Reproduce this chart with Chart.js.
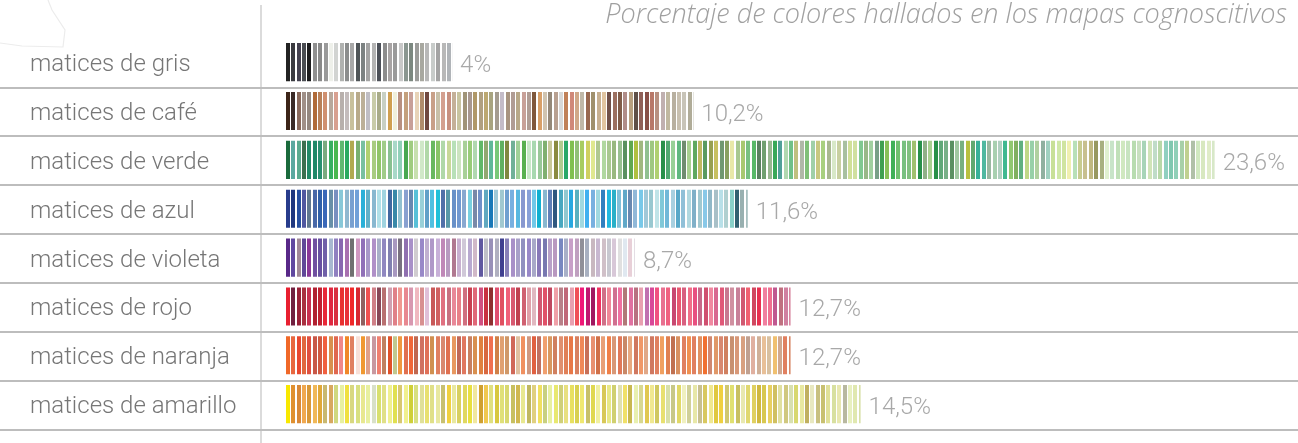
<!DOCTYPE html>
<html>
<head>
<meta charset="utf-8">
<script src="https://cdn.jsdelivr.net/npm/chart.js@4"></script>
<style>
  html, body { margin: 0; padding: 0; background: #fff; }
</style>
</head>
<body>
<canvas id="chart" width="1298" height="443"></canvas>
<script>
const chartTitle = 'Porcentaje de colores hallados en los mapas cognoscitivos';
const categories = ['matices de gris', 'matices de café', 'matices de verde', 'matices de azul',
  'matices de violeta', 'matices de rojo', 'matices de naranja', 'matices de amarillo'];
const values = [4, 10.2, 23.6, 11.6, 8.7, 12.7, 12.7, 14.5];
const valueLabels = ['4%', '10,2%', '23,6%', '11,6%', '8,7%', '12,7%', '12,7%', '14,5%'];

// colores de las franjas de cada barra
const grisColors = ['#222222', '#3a3a40', '#44414f', '#4a4d52', '#1c1c1e', '#909090', '#8a8a8a', '#9a9a9a',
  '#eef0ea', '#d2d4d2', '#b0b2b0', '#8c8e8e', '#a8a8a8', '#505558', '#7c8282', '#a4a4a4', '#b4b4b4',
  '#4c5058', '#8c8c8c', '#a8a4a4', '#9a9a9a', '#c8c8c8', '#8a9690', '#7c8880', '#9c9c9a', '#a8a8a0',
  '#b8b8b8', '#c8ccca', '#a4a4a4', '#b8b8b8', '#b0b4b8', '#b8b8b8', '#c0c0c0'];
const cafeColors = ['#3c2418', '#3a2a26', '#8a6a5c', '#a09088', '#948880', '#b06a38', '#b88058', '#d09070',
  '#b8a89c', '#d8a090', '#b8b0ac', '#c4bcbc', '#c8c09c', '#b8aa8a', '#bcb098', '#c0bec4', '#c8cca8',
  '#a8ac88', '#c8d0c4', '#d0a050', '#f0f0dc', '#b89080', '#c4a07c', '#c8a098', '#e8d4b8', '#b08c6c',
  '#704840', '#c8a088', '#c8c0a8', '#d4a090', '#c89080', '#c4b098', '#c8c4a0', '#a09478', '#a89890',
  '#b09868', '#b0a080', '#bca870', '#a8a480', '#a49c90', '#c4bcc8', '#a89480', '#b09c94', '#b8a888',
  '#c8a098', '#b09c94', '#80583c', '#d8a068', '#d0c4b0', '#948878', '#b8a090', '#d8d8d8', '#c08058',
  '#d08878', '#d0a888', '#c0b8a8', '#986850', '#a0906c', '#c8b090', '#e0c4a0', '#705048', '#9c7060',
  '#805c48', '#b08c88', '#b8a080', '#605048', '#906058', '#885048', '#b87868', '#b89080', '#c0b0b0',
  '#c0b8a0', '#b8b0a0', '#c8c0b0', '#c8c4b8', '#b0ac98', '#b0b0a0', '#c0bca8', '#b8b4a4'];
const verdeColors = ['#1a6a3c', '#5aa8a0', '#5aaa90', '#3c7050', '#228a68', '#1e8868', '#2a9070', '#7aaa80',
  '#38b060', '#4ab850', '#60b870', '#2aaa60', '#b0aa50', '#78b070', '#78c0a0', '#b0d070', '#a8cc80',
  '#90c468', '#a0cc88', '#88c090', '#a8d8c8', '#90d0b8', '#48a850', '#a0cc80', '#c8e0b0', '#d0e8c8',
  '#b0d8a8', '#68b860', '#88c468', '#b0d8a8', '#c8d898', '#b8e0b8', '#cce4c0', '#a8d098', '#98cc78',
  '#b0d8b0', '#60b868', '#90a870', '#60b898', '#78c878', '#60b060', '#808840', '#70b098', '#a0d098',
  '#58b050', '#c8e8c8', '#a8d8b0', '#98c898', '#80b070', '#c8c898', '#8a8a40', '#b0cc90', '#28a868',
  '#80c050', '#90c078', '#a8cc60', '#d0d060', '#e0e890', '#b0c890', '#b0d8a0', '#a8c890', '#98b880',
  '#98c090', '#5a9060', '#60a850', '#b0c040', '#a0b880', '#90c090', '#a0c880', '#b0d070', '#28904a',
  '#50a870', '#98d098', '#60b880', '#708c70', '#a8d090', '#60a860', '#c0b860', '#5a9a60', '#98a050',
  '#c8c060', '#709870', '#88a060', '#e8e8a8', '#a8c890', '#a8c870', '#78c080', '#58b868', '#5a8060',
  '#70a070', '#98b890', '#38a858', '#50a098', '#b0d8b0', '#70c088', '#c0c080', '#b0b8a8', '#80c078',
  '#a0d0a8', '#c8c880', '#a8d080', '#a8b890', '#d8e8c8', '#c8d0a0', '#a8c0a0', '#d0e098', '#d0e0a0',
  '#80c890', '#98b888', '#a0d0a0', '#78a088', '#40a050', '#88c058', '#40b058', '#70c070', '#78c080',
  '#80c080', '#a0c070', '#28904a', '#90b088', '#a8d090', '#289048', '#60a878', '#78b088', '#5a9060',
  '#a0c8a0', '#78b080', '#b8c040', '#60a870', '#38b098', '#50b8a0', '#98b8a0', '#a8d0b0', '#b0d0c0',
  '#40b890', '#90c870', '#80b060', '#60b080', '#c0d888', '#98d0a8', '#b0d0a0', '#90b0a0', '#a0d0c0',
  '#c8e098', '#d0e8a8', '#d0e4a0', '#f0f0b0', '#b8e0b8', '#c8cc90', '#c8c090', '#c0b880', '#989860',
  '#a8b080', '#e0f0d0', '#c8e4c8', '#c0e0b8', '#d0e8c0', '#c8e4c0', '#b8dcb0', '#c8e0c0', '#a8d4b8',
  '#d0e4b8', '#c0dcc8', '#b8d8a8', '#90d0c0', '#80c8b0', '#90d0b8', '#a8d0a8', '#c0d090', '#b0c0a8',
  '#d0e8c0', '#d8e8c0', '#e0ecc8', '#d8e8c8', '#dceac4', '#e0eccc'];
const azulColors = ['#283c8c', '#203880', '#2850a0', '#5058a0', '#607890', '#4868a8', '#3060a8', '#3a68b8',
  '#6890a8', '#7890c0', '#88c8d8', '#90b8d0', '#78a0d0', '#70a0d8', '#28b0d8', '#60b0c8', '#88b8d0',
  '#b0e0e8', '#a0d4e0', '#4068a0', '#3888a8', '#90c0d0', '#88a0d0', '#6888b0', '#58c0d8', '#98d0d8',
  '#60a0c8', '#50c0e0', '#20c0d8', '#5070a8', '#5898a8', '#6890c8', '#7098d0', '#88a8d0', '#78d0e0',
  '#7888a8', '#7090c8', '#60a8c0', '#1878b8', '#a0c8d8', '#a0c8d0', '#70a0d0', '#78b0e0', '#58b8e0',
  '#8898d0', '#88a0d8', '#70c8e8', '#10b0d0', '#88b8d0', '#6080b8', '#305880', '#48a8c0', '#90c8d0',
  '#28a8e0', '#58b0c0', '#a0d8e0', '#40b0f0', '#78b0e0', '#a0d8e0', '#3080c0', '#20b8e0', '#28b0c8',
  '#80c0d8', '#60a8c8', '#6888b0', '#90b8d8', '#78c8e8', '#a0c8d8', '#98c8d0', '#c0e4e8', '#80c8d8',
  '#70b8d8', '#a8d0e0', '#58a8c8', '#90c0d8', '#b0d8e0', '#80b0c8',
  '#a0c8d0', '#88c8e8', '#90b8c8', '#a8c0c8', '#b8e0e8', '#b0d0d0', '#88d0c8', '#306070', '#98b0b0',
  '#a8c0c0', '#b0c8c8', '#a0b8b8', '#b8cccc'];
const violetaColors = ['#582888', '#6048a0', '#a08898', '#604898', '#8a3898', '#7050a0', '#6850a0', '#7060a8',
  '#a8b8d0', '#9080c0', '#8868b0', '#a870b0', '#707070', '#d098c0', '#9070b8', '#a898c8', '#b090c8',
  '#a8b0c8', '#9088c0', '#8080b0', '#a898c0', '#787080', '#9070b0', '#a890c8', '#d0ccd0', '#9888c8',
  '#c0b0d0', '#b098c8', '#c8b0d8', '#c088b8', '#b89ac0', '#b07890', '#c8b0d0', '#d0c8d8', '#b8a8d0',
  '#d0b8c8', '#6058a0', '#c0c0c8', '#9890b8', '#b0b0c0', '#404090', '#8880b8', '#a890c8', '#a8a0c8',
  '#9090c0', '#9888c8', '#a8a8c8', '#8878b8', '#7878b0', '#b8a0c8', '#b898c0', '#7888c0', '#a8b0c8',
  '#c8a0c8', '#c0a0c0', '#909098', '#a8b0c0', '#c8b8c0', '#c8b8d0', '#d0c0c8', '#c8c8d0', '#d8c8d8',
  '#e0e0e0', '#e0e8f0', '#e8d0d8', '#e4dce4', '#ece0e8', '#e8e4ec', '#f0e0e8'];
const rojoColors = ['#e82030', '#702040', '#982038', '#a83040', '#c83050', '#b02030', '#c02030', '#e82838',
  '#e02840', '#d83040', '#e83030', '#e83038', '#f02828', '#d82830', '#906060', '#f05050', '#d08088',
  '#884858', '#b87070', '#d0a0b0', '#e08088', '#f09890', '#e88890', '#d898b0', '#f0b8c0', '#d89090',
  '#e0c0d8', '#c85858', '#d06060', '#e07080', '#c87080', '#e88898', '#e88088', '#d07080', '#c84050',
  '#e06878', '#d05080', '#c83040', '#903030', '#e05070', '#e05060', '#f06078', '#d85870', '#c04050',
  '#d06070', '#e0a0a8', '#e0b8c0', '#d05870', '#e05068', '#c04860', '#f0a0a8', '#b88088', '#c06878',
  '#e8a0b0', '#f05058', '#f01878', '#c01870', '#a01860', '#f03060', '#d07088', '#f08898', '#d07090',
  '#f070a0', '#b07878', '#e070a0', '#b87080', '#e8a0b0', '#c070b0', '#d84898', '#f05080', '#e87090',
  '#f06080', '#c84870', '#e85870', '#d86080', '#f07088', '#e85080', '#c86888', '#d05070', '#f088a0',
  '#d86890', '#e05878', '#c87890', '#d090a0',
  '#c88098', '#d05870', '#f06070', '#d04860', '#e83050', '#f080a0', '#f07090', '#c05890', '#c07080',
  '#d080a0', '#d888a0', '#c890a0'];
const naranjaColors = ['#f06828', '#e86840', '#e84830', '#e06840', '#e05040', '#c85848', '#d05840', '#f06040',
  '#d89050', '#e06850', '#f08888', '#f08828', '#e08060', '#f8e0d8', '#f09830', '#e0a088', '#c898a0',
  '#f08070', '#c08060', '#e05028', '#c0c890', '#f09840', '#e07050', '#f06838', '#c06850', '#d07060',
  '#e07058', '#d09050', '#e08060', '#d88870', '#e07050', '#e89860', '#c06858', '#e07860', '#c88060',
  '#d89050', '#e08040', '#d86840', '#f07050', '#d08048', '#e0a070', '#d09868', '#d06858', '#e0c0a0',
  '#f09060', '#d09880', '#e06040', '#c07060', '#f0a070', '#d89860', '#d08060', '#e09070', '#e08058',
  '#e87848', '#d88060', '#f08858', '#c87058', '#e89070', '#d07048', '#e8a078', '#f08048', '#d89878',
  '#e07858', '#c88868', '#e8a880', '#d07860', '#f09868', '#e0a888',
  '#d07860', '#e08060', '#f0a060', '#e08050', '#c07050', '#d89060', '#e08060', '#f09050', '#e08060',
  '#e09060', '#f07030', '#d08870', '#e09868', '#d88870', '#d08060', '#c89070', '#d89878', '#d8a080',
  '#c0a090', '#e0b0a0', '#d0b098', '#e8c098', '#d8c0a0', '#f0c070', '#d0a890', '#e08060', '#d88868'];
const amarilloColors = ['#f8e800', '#e09030', '#d88838', '#f0a850', '#d89838', '#f0b858', '#e0a838', '#c8b870',
  '#d8a860', '#d0d880', '#e8f0a0', '#f0e040', '#d8d880', '#d8e080', '#e8e890', '#e8f0a0', '#d8e0c8',
  '#d8e070', '#e0e088', '#f0f090', '#e0e050', '#d8c870', '#f0f090', '#d0d038', '#d8e080', '#e0e098',
  '#e8e070', '#e0e088', '#e8e8a0', '#c8c070', '#f0d040', '#e8e8a0', '#d8d060', '#e0d860', '#e8e040',
  '#f0e8a0', '#d0a030', '#f0c850', '#e0e080', '#d8c840', '#e0e078', '#d8d870', '#c8c060', '#d0b850',
  '#e8e890', '#c0b860', '#e0d080', '#f0e060', '#c8d080', '#e8f0a0', '#e8e870', '#d0d078', '#e8e080',
  '#e8e060', '#d8d050', '#f0e870', '#c8c068', '#e0d850', '#f0f0a0', '#d8c858', '#e8e888', '#d0d070',
  '#e0e0b0', '#f0e068', '#c8b850', '#e8f0b0', '#d8d890', '#e0c850', '#f0e890', '#d0c860', '#e8e070',
  '#d8e0a8', '#c8c888', '#e0d868', '#f0f0c0', '#d0d098', '#e8e8a8', '#c8c090',
  '#d8c860', '#f0e890', '#e0c840', '#f0d040', '#d0c870', '#e0e070', '#c8c060', '#e8e8b0', '#e0d870',
  '#e0d060', '#d0b840', '#d8c850', '#e8d060', '#d0c060', '#e0e0a0', '#d0c880', '#d8e0b0', '#d8d870',
  '#e8e8a0', '#c0b060', '#e8e8c0', '#c8c080', '#c8c070', '#e0e098', '#d8e0a0', '#e8e8b0', '#b8b8a0',
  '#e8f0c0', '#e0e8b0', '#d8e0a8', '#e8ecc0', '#e0e4b8', '#e8f0c8'];
const palettes = [grisColors, cafeColors, verdeColors, azulColors, violetaColors, rojoColors, naranjaColors, amarilloColors];

const STRIPE_STEP = 5.35;
const STRIPE_W = 4;
const BAR_BASE = -0.27;
const patternCache = {};

// patron de franjas verticales con los colores de la categoria
const stripePattern = (chart, index) => {
  const area = chart.chartArea;
  const key = index + '_' + area.left;
  if (patternCache[key]) return patternCache[key];
  const colors = palettes[index];
  const w = Math.round(colors.length * STRIPE_STEP);
  const c = document.createElement('canvas');
  c.width = w;
  c.height = 64;
  const g = c.getContext('2d');
  colors.forEach((col, i) => {
    g.fillStyle = col;
    g.fillRect(Math.round(i * w / colors.length), 0, STRIPE_W, 64);
  });
  const pattern = chart.ctx.createPattern(c, 'repeat');
  pattern.setTransform(new DOMMatrix().translate(Math.round(area.left), 0));
  patternCache[key] = pattern;
  return pattern;
};

const decorPlugin = {
  id: 'decor',
  beforeDraw(chart) {
    const ctx = chart.ctx;
    ctx.save();
    // contorno tenue arriba a la izquierda
    ctx.strokeStyle = '#ececec';
    ctx.lineWidth = 1.2;
    ctx.beginPath();
    ctx.moveTo(0, 43);
    ctx.lineTo(22, 46);
    ctx.lineTo(63, 47);
    ctx.lineTo(65, 30);
    ctx.lineTo(52, 10);
    ctx.lineTo(48, 0);
    ctx.stroke();
    // linea vertical
    const x = chart.chartArea.left - 25;
    ctx.strokeStyle = '#cfcfcf';
    ctx.lineWidth = 1.5;
    ctx.beginPath();
    ctx.moveTo(x, 5);
    ctx.lineTo(x, chart.height);
    ctx.stroke();
    // separadores de filas
    const yScale = chart.scales.y;
    ctx.strokeStyle = '#bdbdbd';
    ctx.lineWidth = 2;
    categories.forEach((c, i) => {
      const y0 = yScale.getPixelForValue(i);
      const y1 = i < categories.length - 1 ? yScale.getPixelForValue(i + 1) : y0 + (y0 - yScale.getPixelForValue(i - 1));
      const y = Math.round((y0 + y1) / 2) + 1;
      ctx.beginPath();
      ctx.moveTo(0, y);
      ctx.lineTo(chart.width, y);
      ctx.stroke();
    });
    ctx.restore();
  },
  afterDatasetsDraw(chart) {
    const ctx = chart.ctx;
    const meta = chart.getDatasetMeta(0);
    ctx.save();
    ctx.fillStyle = '#a8a8a8';
    ctx.font = '300 24px Roboto';
    ctx.textAlign = 'left';
    ctx.textBaseline = 'middle';
    meta.data.forEach((bar, i) => {
      ctx.fillText(valueLabels[i], bar.x + 8, bar.y + 4);
    });
    ctx.restore();
  }
};

new Chart(document.getElementById('chart'), {
  type: 'bar',
  data: {
    labels: categories,
    datasets: [{
      data: values,
      base: BAR_BASE,
      backgroundColor: (context) => {
        const chart = context.chart;
        if (!chart.chartArea) return palettes[context.dataIndex][0];
        return stripePattern(chart, context.dataIndex);
      },
      borderWidth: 0,
      categoryPercentage: 1,
      barPercentage: 0.78
    }]
  },
  options: {
    indexAxis: 'y',
    responsive: false,
    animation: false,
    devicePixelRatio: 1,
    layout: { padding: { left: 30, right: 11, top: 0, bottom: 6 } },
    scales: {
      x: { display: false, min: BAR_BASE, max: 25.46 },
      y: {
        position: 'left',
        grid: { display: false },
        border: { display: false },
        ticks: {
          crossAlign: 'far',
          color: '#767676',
          padding: 0,
          labelOffset: 3,
          font: { family: 'Roboto', size: 24, weight: 300 }
        },
        afterFit(scale) { scale.width = 256; }
      }
    },
    plugins: {
      legend: { display: false },
      tooltip: { enabled: false },
      title: {
        display: true,
        text: chartTitle,
        align: 'end',
        color: '#a0a0a0',
        padding: { top: 0, bottom: 8 },
        font: { family: 'Open Sans', style: 'italic', weight: 300, size: 27, lineHeight: 1.1 }
      }
    }
  },
  plugins: [decorPlugin]
});
</script>
</body>
</html>
